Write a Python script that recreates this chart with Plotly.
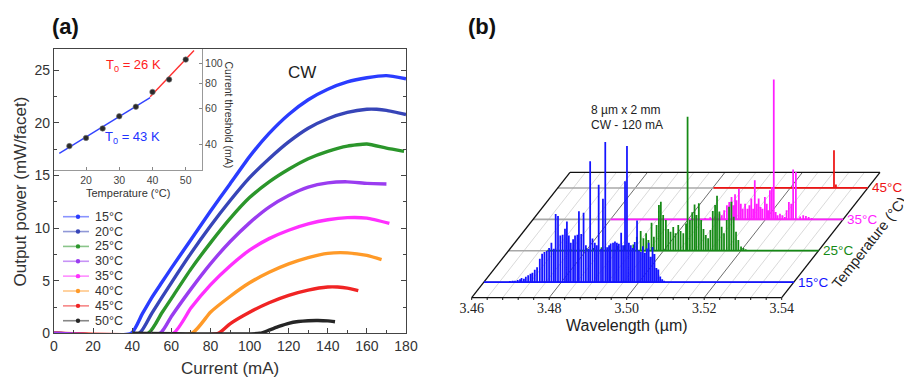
import numpy as np
import plotly.graph_objects as go

W, H = 912, 379
OFF = 8  # page body margin of the html page


def px(xp):
    return (xp - OFF) / W


def py(yp):
    return 1 - (yp - OFF) / H


# ---------------- Panel (a): output power vs current ----------------
TEMP_LABELS = ["15°C", "20°C", "25°C", "30°C", "35°C", "40°C", "45°C", "50°C"]
COLORS_A = ["#2a3cff", "#3745b8", "#2b962b", "#9a3cf0", "#ff30ff", "#ff9a28", "#f02424", "#262626"]

I15 = [0, 39.5, 45, 50, 55, 60, 70, 80, 90, 100, 110, 120, 130, 140, 150, 160, 170, 180]
P15 = [0, 0, 1.8, 3.4, 4.8, 6.2, 8.9, 11.6, 14.2, 16.8, 19.0, 20.8, 22.2, 23.2, 23.9, 24.3, 24.5, 24.2]
I20 = [0, 43.6, 50, 60, 70, 80, 90, 100, 110, 120, 130, 140, 150, 160, 165, 170, 180]
P20 = [0, 0, 1.9, 4.8, 7.6, 10.2, 12.6, 14.8, 16.6, 18.2, 19.5, 20.4, 21.0, 21.3, 21.3, 21.2, 20.8]
I25 = [0, 48.2, 55, 60, 70, 80, 90, 100, 110, 120, 130, 140, 150, 160, 170, 179]
P25 = [0, 0, 1.9, 3.3, 6.1, 8.6, 10.9, 12.9, 14.4, 15.6, 16.6, 17.3, 17.8, 18.0, 17.6, 17.3]
I30 = [0, 54.2, 60, 70, 80, 90, 100, 110, 120, 130, 140, 150, 160, 170]
P30 = [0, 0, 1.6, 4.2, 6.6, 8.7, 10.5, 12.0, 13.1, 13.9, 14.3, 14.4, 14.25, 14.2]
I35 = [0, 61, 70, 80, 90, 100, 110, 120, 130, 140, 150, 160, 171.5]
P35 = [0, 0, 2.4, 4.6, 6.4, 7.9, 9.0, 9.8, 10.4, 10.8, 11.0, 10.95, 10.45]
I40 = [0, 70.5, 80, 90, 100, 110, 120, 130, 140, 150, 160, 167.5]
P40 = [0, 0, 2.0, 3.5, 4.8, 5.8, 6.6, 7.2, 7.6, 7.65, 7.4, 7.0]
I45 = [0, 84, 90, 100, 110, 120, 130, 140, 145, 150, 155.6]
P45 = [0, 0, 0.9, 2.0, 2.9, 3.6, 4.1, 4.4, 4.4, 4.3, 4.05]
I50 = [40, 105.3, 110, 115, 120, 125, 130, 135, 140, 143.7]
P50 = [0, 0, 0.3, 0.65, 0.95, 1.12, 1.2, 1.22, 1.18, 1.1]

CURRENTS = [I15, I20, I25, I30, I35, I40, I45, I50]
POWERS = [P15, P20, P25, P30, P35, P40, P45, P50]

X_TICKS_A = [0, 20, 40, 60, 80, 100, 120, 140, 160, 180]
Y_TICKS_A = [0, 5, 10, 15, 20, 25]

# inset: threshold current vs temperature
INSET_T = [15, 20, 25, 30, 35, 40, 45, 50]
INSET_ITH = [39.1, 42.9, 47.8, 54.9, 61.2, 72.4, 83.4, 104.6]
FIT43_T = [11.96, 39.3]
FIT43_I = [36.0, 67.9]
FIT26_T = [39.3, 52.5]
FIT26_I = [68.5, 116.0]
INSET_XTICKS = [20, 30, 40, 50]
INSET_YTICKS = [40, 60, 80, 100]

# ---------------- Panel (b): spectra waterfall ----------------
SPEC_T = [15, 25, 35, 45]
SPEC_LABELS = ["15°C", "25°C", "35°C", "45°C"]
SPEC_COLORS = ["#1414ff", "#158a15", "#ff1eff", "#ee1414"]
SPEC_START = [3.46, 3.470, 3.4800, 3.5002]
SPEC_END = 3.54

B_WL = [3.4667, 3.4674, 3.4680, 3.4687, 3.4693, 3.4697, 3.4703, 3.4708, 3.4714, 3.4720, 3.4725, 3.4731,
        3.4737, 3.4744, 3.4750, 3.4756, 3.4762, 3.4768, 3.4774, 3.4780, 3.4785, 3.4791, 3.4797, 3.4803,
        3.4809, 3.4814, 3.4819, 3.4824, 3.4830, 3.4835, 3.4841, 3.4845, 3.4851, 3.4857, 3.4863, 3.4869,
        3.4874, 3.4880, 3.4886, 3.4891, 3.4896, 3.4902, 3.4907, 3.4913, 3.4918, 3.4923, 3.4927, 3.4933,
        3.4938, 3.4943, 3.4948, 3.4954, 3.4959, 3.4964, 3.4969, 3.4974, 3.4979, 3.4984, 3.4989, 3.4995,
        3.5000, 3.5005, 3.5010, 3.5015, 3.5020, 3.5025, 3.5030, 3.5035, 3.5040, 3.5045, 3.5050, 3.5055,
        3.5060, 3.5065]
B_I = [0.007, 0.01, 0.01, 0.014, 0.019, 0.029, 0.024, 0.038, 0.048, 0.06, 0.067, 0.088,
       0.105, 0.167, 0.202, 0.214, 0.224, 0.243, 0.281, 0.238, 0.486, 0.471, 0.333, 0.338,
       0.381, 0.433, 0.333, 0.281, 0.305, 0.333, 0.338, 0.505, 0.343, 0.495, 0.262, 0.238,
       0.862, 0.31, 0.281, 0.262, 0.695, 0.238, 0.595, 1.0, 0.248, 0.262, 0.276, 0.281,
       0.29, 0.281, 0.274, 0.352, 0.262, 0.719, 0.971, 0.281, 0.262, 0.243, 0.286, 0.44,
       0.226, 0.214, 0.255, 0.21, 0.24, 0.28, 0.18, 0.25, 0.2, 0.1, 0.09, 0.04,
       0.02, 0.01]
G_WL = [3.4760, 3.4780, 3.4800, 3.4820, 3.4840, 3.4860, 3.4880, 3.4900, 3.4922, 3.4931, 3.4941, 3.4948,
        3.4955, 3.4961, 3.4969, 3.4975, 3.4982, 3.4988, 3.4993, 3.4999, 3.5006, 3.5012, 3.5018, 3.5025,
        3.5031, 3.5038, 3.5044, 3.5051, 3.5058, 3.5062, 3.5068, 3.5074, 3.5080, 3.5085, 3.5091, 3.5097,
        3.5103, 3.5109, 3.5115, 3.5121, 3.5127, 3.5133, 3.5138, 3.5144, 3.5150, 3.5156, 3.5163, 3.5169,
        3.5175, 3.5181, 3.5187, 3.5193, 3.5200, 3.5206, 3.5212]
G_I = [0.01, 0.015, 0.02, 0.02, 0.025, 0.03, 0.035, 0.04, 0.045, 0.1, 0.14, 0.088,
       0.124, 0.076, 0.2, 0.1, 0.183, 0.326, 0.35, 0.255, 0.22, 0.155, 0.136, 0.17,
       0.124, 0.183, 0.14, 0.124, 0.195, 0.957, 0.22, 0.274, 0.33, 0.255, 0.338, 0.219,
       0.155, 0.112, 0.088, 0.148, 0.283, 0.326, 0.393, 0.28, 0.171, 0.124, 0.219, 0.314,
       0.35, 0.243, 0.136, 0.076, 0.03, 0.02, 0.01]
M_WL = [3.5044, 3.5057, 3.5069, 3.5081, 3.5087, 3.5093, 3.5100, 3.5106, 3.5112, 3.5117, 3.5121, 3.5125,
        3.5131, 3.5136, 3.5141, 3.5147, 3.5153, 3.5158, 3.5163, 3.5168, 3.5172, 3.5177, 3.5182, 3.5187,
        3.5192, 3.5198, 3.5203, 3.5207, 3.5211, 3.5216, 3.5221, 3.5226, 3.5231, 3.5237, 3.5243, 3.5249,
        3.5254, 3.5260, 3.5266, 3.5271, 3.5278, 3.5289, 3.5297, 3.5304, 3.5311, 3.5319]
M_I = [0.01, 0.015, 0.02, 0.04, 0.029, 0.064, 0.1, 0.124, 0.16, 0.1, 0.179, 0.136,
       0.219, 0.112, 0.076, 0.112, 0.076, 0.1, 0.148, 0.076, 0.279, 0.112, 0.148, 0.088,
       0.076, 0.16, 0.112, 0.064, 0.207, 0.231, 0.998, 0.052, 0.029, 0.04, 0.029, 0.017,
       0.064, 0.124, 0.112, 0.355, 0.338, 0.021, 0.029, 0.024, 0.017, 0.01]
R_WL = [3.5313, 3.5318]
R_I = [0.27, 0.025]

SPEC_WL = [B_WL, G_WL, M_WL, R_WL]
SPEC_I = [B_I, G_I, M_I, R_I]

WL_MAJOR = [3.46, 3.48, 3.50, 3.52, 3.54]
WL_MINOR_STEP = 0.004

# pseudo-3D projection parameters (layout)
T_MIN, T_MAX = 10, 50
DX, DY = 0.02537, 0.8957


def depth(T):
    return (T - T_MIN) / (T_MAX - T_MIN)


def proj(wl, inten, T):
    d = depth(T)
    xs = [None if w is None else w + d * DX for w in wl]
    ys = [None if v is None else v + d * DY for v in inten]
    return xs, ys


fig = go.Figure()

# ---- panel (a) curves ----
draw_order = [0, 1, 2, 4, 5, 6, 3, 7]
for i in draw_order:
    fig.add_trace(go.Scatter(
        x=CURRENTS[i], y=POWERS[i], mode="lines",
        line=dict(color=COLORS_A[i], width=3.4, shape="spline", smoothing=0.5),
        xaxis="x", yaxis="y", showlegend=False, hoverinfo="skip"))

# ---- inset ----
fig.add_trace(go.Scatter(x=FIT43_T, y=FIT43_I, mode="lines", line=dict(color="#3344ff", width=1.4),
                         xaxis="x3", yaxis="y3", showlegend=False, hoverinfo="skip"))
fig.add_trace(go.Scatter(x=FIT26_T, y=FIT26_I, mode="lines", line=dict(color="#ff3030", width=1.4),
                         xaxis="x3", yaxis="y3", showlegend=False, hoverinfo="skip"))
fig.add_trace(go.Scatter(x=INSET_T, y=INSET_ITH, mode="markers",
                         marker=dict(color="#2a2a2a", size=5.5, line=dict(color="#777", width=0.6)),
                         xaxis="x3", yaxis="y3", showlegend=False, hoverinfo="skip"))

# ---- panel (b) floor grid ----
all_ticks = np.round(np.arange(WL_MAJOR[0], WL_MAJOR[-1] + 1e-9, WL_MINOR_STEP), 4)
minor_only = [w for w in all_ticks if min(abs(w - m) for m in WL_MAJOR) > 1e-6]


def diag_path(wls):
    xs, ys = [], []
    for w in wls:
        x0, y0 = proj([w], [0], T_MIN)
        x1, y1 = proj([w], [0], T_MAX)
        xs += [x0[0], x1[0], None]
        ys += [y0[0], y1[0], None]
    return xs, ys


gx, gy = diag_path(minor_only)
fig.add_trace(go.Scatter(x=gx, y=gy, mode="lines", line=dict(color="#cfcfcf", width=0.8),
                         xaxis="x2", yaxis="y2", showlegend=False, hoverinfo="skip"))
gx, gy = diag_path(WL_MAJOR[1:-1])
fig.add_trace(go.Scatter(x=gx, y=gy, mode="lines", line=dict(color="#6e6e6e", width=1.0),
                         xaxis="x2", yaxis="y2", showlegend=False, hoverinfo="skip"))

# temperature grid lines
tx, ty = [], []
for T in SPEC_T:
    xs, ys = proj([WL_MAJOR[0], WL_MAJOR[-1]], [0, 0], T)
    tx += xs + [None]
    ty += ys + [None]
fig.add_trace(go.Scatter(x=tx, y=ty, mode="lines", line=dict(color="#a8a8a8", width=1.6),
                         xaxis="x2", yaxis="y2", showlegend=False, hoverinfo="skip"))

# front-edge ticks
kx, ky = [], []
for w in all_ticks:
    kx += [w, w, None]
    ky += [0, -0.016, None]
fig.add_trace(go.Scatter(x=kx, y=ky, mode="lines", line=dict(color="#111", width=1.0),
                         xaxis="x2", yaxis="y2", showlegend=False, hoverinfo="skip"))

# floor frame
fx, fy = [], []
for (w0, T0_, w1, T1_) in [(WL_MAJOR[0], T_MIN, WL_MAJOR[-1], T_MIN),
                           (WL_MAJOR[-1], T_MIN, WL_MAJOR[-1], T_MAX),
                           (WL_MAJOR[-1], T_MAX, WL_MAJOR[0], T_MAX),
                           (WL_MAJOR[0], T_MAX, WL_MAJOR[0], T_MIN)]:
    a, b = proj([w0], [0], T0_)
    c, e = proj([w1], [0], T1_)
    fx += [a[0], c[0], None]
    fy += [b[0], e[0], None]
fig.add_trace(go.Scatter(x=fx, y=fy, mode="lines", line=dict(color="#111", width=1.3),
                         xaxis="x2", yaxis="y2", showlegend=False, hoverinfo="skip"))

# spectra, back to front
for k in reversed(range(len(SPEC_T))):
    xs, ys = [SPEC_START[k]], [0]
    for w, h in zip(SPEC_WL[k], SPEC_I[k]):
        xs += [w, w, w]
        ys += [0, h, 0]
    xs.append(SPEC_END)
    ys.append(0)
    pxs, pys = proj(xs, ys, SPEC_T[k])
    fig.add_trace(go.Scatter(x=pxs, y=pys, mode="lines", line=dict(color=SPEC_COLORS[k], width=1.75),
                             xaxis="x2", yaxis="y2", showlegend=False, hoverinfo="skip"))

# ---------------- annotations & shapes ----------------
ann = []
shapes = []
FONT = "Liberation Sans, Arial, sans-serif"


def note(text, x, y, size, color="#222", xanchor="center", xref="paper", yref="paper", **kw):
    ann.append(dict(text=text, x=x, y=y, xref=xref, yref=yref, xanchor=xanchor, yanchor="middle",
                    showarrow=False, font=dict(family=FONT, size=size, color=color), **kw))


note("<b>(a)</b>", px(65), py(26), 22, "#111")
note("<b>(b)</b>", px(482), py(26), 22, "#111")
note("Current (mA)", px(230), py(368.5), 17, "#333")
note("Output power (mW/facet)", px(20), py(191.5), 17, "#333", textangle=-90)
note("CW", px(301.5), py(73), 17, "#222")
note("T<sub>0</sub> = 26 K", px(133), py(65), 13, "#ff2020")
note("T<sub>0</sub> = 43 K", px(132), py(137.5), 13, "#2233ff")
note("Temperature (°C)", px(128), py(193), 11, "#333")
note("Current threshold (mA)", px(228.5), py(115), 10.5, "#333", textangle=90)

# manual legend for panel (a)
for i, (lab, col) in enumerate(zip(TEMP_LABELS, COLORS_A)):
    yy = 216.7 + i * 14.86
    shapes.append(dict(type="line", xref="paper", yref="paper", x0=px(63), x1=px(89), y0=py(yy), y1=py(yy),
                       line=dict(color=col, width=1.6), opacity=0.55))
    shapes.append(dict(type="circle", xref="paper", yref="paper", x0=px(75.8), x1=px(80.2),
                       y0=py(yy + 2.2), y1=py(yy - 2.2), fillcolor=col, line=dict(color=col, width=0)))
    note(lab, px(93), py(yy), 12.5, "#333", xanchor="left")

# panel (b) texts
note("8 µm x 2 mm", px(589), py(110), 12, "#222", xanchor="left")
note("CW - 120 mA", px(589), py(125), 12, "#222", xanchor="left")
note("Wavelength (µm)", (WL_MAJOR[0] + WL_MAJOR[-1]) / 2, py(325), 16, "#222", xref="x2")
note("Temperature (°C)", px(869), py(243), 14.5, "#222", textangle=-52)
for T, lab, col in zip(SPEC_T, SPEC_LABELS, SPEC_COLORS):
    lx, ly = proj([SPEC_END], [0], T)
    note(lab, lx[0], ly[0], 13.5, col, xanchor="left", xref="x2", yref="y2", xshift=2)

axis_common = dict(showgrid=False, zeroline=False, automargin=False)

fig.update_layout(
    template="none",
    width=W, height=H, margin=dict(l=0, r=0, t=0, b=0, pad=0, autoexpand=False),
    paper_bgcolor="white", plot_bgcolor="rgba(0,0,0,0)",
    showlegend=False,
    annotations=ann, shapes=shapes,
    xaxis=dict(domain=[px(54), px(406)], range=[0, 180], anchor="y", tickvals=X_TICKS_A,
               ticks="inside", ticklen=5, tickcolor="#444", showline=True, mirror=True,
               linecolor="#444", linewidth=1.2,
               minor=dict(ticks="inside", ticklen=3, dtick=10, tickcolor="#444"),
               tickfont=dict(family=FONT, size=14, color="#333"), **axis_common),
    yaxis=dict(domain=[py(333.3), py(49.3)], range=[0, 27], anchor="x", tickvals=Y_TICKS_A,
               ticks="inside", ticklen=5, tickcolor="#444", showline=True, mirror="ticks",
               linecolor="#444", linewidth=1.2,
               minor=dict(ticks="inside", ticklen=3, dtick=2.5, tickcolor="#444"),
               tickfont=dict(family=FONT, size=14, color="#333"), **axis_common),
    xaxis3=dict(domain=[px(54), px(202)], range=[10.37, 54.9], anchor="y3", tickvals=INSET_XTICKS,
                ticks="inside", ticklen=3, tickcolor="#888", showline=True, linecolor="#999",
                linewidth=1, tickfont=dict(family=FONT, size=10.5, color="#444"), **axis_common),
    yaxis3=dict(domain=[py(170), py(49.3)], type="log", range=[np.log10(29.8), np.log10(117.6)],
                anchor="x3", side="right", tickvals=INSET_YTICKS, ticks="inside", ticklen=3,
                tickcolor="#888", showline=True, linecolor="#999", linewidth=1,
                tickfont=dict(family=FONT, size=10.5, color="#444"), **axis_common),
    xaxis2=dict(domain=[px(440), px(912)], range=[3.45182, 3.57363], anchor="free", position=py(297.7),
                tickvals=WL_MAJOR, ticktext=["%.2f" % v for v in WL_MAJOR], ticks="",
                showline=False, tickfont=dict(family="Liberation Serif, Times New Roman, serif",
                                              size=14, color="#222"), **axis_common),
    yaxis2=dict(domain=[0, 1], range=[-0.5807 - OFF / 140, 2.1264 - OFF / 140], anchor="x2",
                visible=False, **axis_common),
)

fig.write_html("out.html")
